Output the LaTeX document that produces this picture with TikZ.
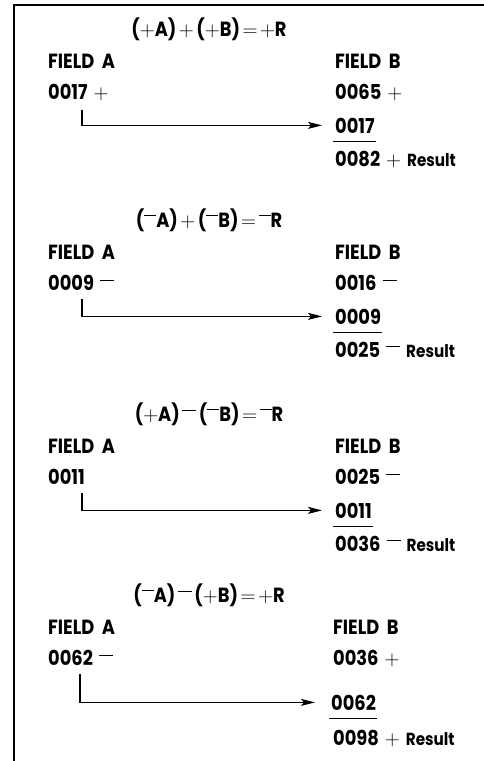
\documentclass[tikz,border=0pt]{standalone}
\usepackage{fontspec}
\setmainfont{Poppins}[FakeStretch=0.87]
\usetikzlibrary{arrows.meta}
\newcommand\pl{{\fontsize{21}{22}\selectfont$+$}}
\newcommand\tpl{{\fontsize{20}{22}\selectfont$+$}}
\newcommand\mnu{\raisebox{11.5pt}{\rule{12pt}{1pt}}}
\newcommand\mnb{\raisebox{10pt}{\rule{14pt}{1pt}}}
\newcommand\eqs{{\fontsize{20}{22}\selectfont$=$}}
\newcommand\rs{{\fontsize{17.5}{18}\selectfont Result}}
\newcommand\gp{\hspace{6pt}}
\newcommand\tg{\hspace{2.5pt}}
\tikzset{
  lab/.style={anchor=base west, inner sep=0pt, font=\fontsize{20.5}{22}\selectfont\bfseries},
  ttl/.style={anchor=base, inner sep=0pt, font=\fontsize{20.5}{22}\selectfont\bfseries},
  conn/.style={line width=1.2pt, -{Stealth[length=14pt,width=7pt,inset=3pt]}},
  uline/.style={line width=1.4pt},
  frame/.style={line width=1.3pt}
}
\begin{document}
\begin{tikzpicture}[x=1pt,y=-1pt]
\useasboundingbox (0,0) rectangle (484,761);
\draw[frame] (484,5) -- (14,5) -- (14,761);

% Panel 1
\node[ttl] (t1) at (209,36) {(\tpl A)\tg\tpl\tg(\tpl B)\tg\eqs\tg\tpl R};
\node[lab] (fa1) at (48,68.3) {FIELD\ \ A};
\node[lab] (fb1) at (335,68.3) {FIELD\ \ B};
\node[lab] (a1) at (48,99.5) {0017\gp\pl};
\node[lab] (b1) at (335,99.5) {0065\gp\pl};
\node[lab] (c1) at (335,133) {0017};
\node[lab] (r1) at (335,166) {0082\gp\pl\gp\rs};
\draw[conn] ([xshift=34pt,yshift=-8.5pt]a1.south west) |- ([xshift=-13pt]c1.west);
\draw[uline] ([xshift=-2pt,yshift=-8.5pt]c1.south west) -- ([xshift=1pt,yshift=-8.5pt]c1.south east);

% Panel 2
\node[ttl] (t2) at (209,227) {(\mnu A)\tg\tpl\tg(\mnu B)\tg\eqs\tg\mnu R};
\node[lab] (fa2) at (48,259.3) {FIELD\ \ A};
\node[lab] (fb2) at (335,259.3) {FIELD\ \ B};
\node[lab] (a2) at (48,290.5) {0009\gp\mnb};
\node[lab] (b2) at (335,290.5) {0016\gp\mnb};
\node[lab] (c2) at (335,324) {0009};
\node[lab] (r2) at (335,357) {0025\gp\mnb\gp\rs};
\draw[conn] ([xshift=34pt,yshift=-8.5pt]a2.south west) |- ([xshift=-13pt]c2.west);
\draw[uline] ([xshift=-2pt,yshift=-8.5pt]c2.south west) -- ([xshift=1pt,yshift=-8.5pt]c2.south east);

% Panel 3
\node[ttl] (t3) at (209,421) {(\tpl A)\tg\mnb\tg(\mnu B)\tg\eqs\tg\mnu R};
\node[lab] (fa3) at (48,453.3) {FIELD\ \ A};
\node[lab] (fb3) at (335,453.3) {FIELD\ \ B};
\node[lab] (a3) at (48,484.5) {0011};
\node[lab] (b3) at (335,484.5) {0025\gp\mnb};
\node[lab] (c3) at (335,518) {0011};
\node[lab] (r3) at (335,551) {0036\gp\mnb\gp\rs};
\draw[conn] ([xshift=34pt,yshift=-8.5pt]a3.south west) |- ([xshift=-13pt]c3.west);
\draw[uline] ([xshift=-2pt,yshift=-8.5pt]c3.south west) -- ([xshift=1pt,yshift=-8.5pt]c3.south east);

% Panel 4
\node[ttl] (t4) at (209,602) {(\mnu A)\tg\mnb\tg(\tpl B)\tg\eqs\tg\tpl R};
\node[lab] (fa4) at (48,634.3) {FIELD\ \ A};
\node[lab] (fb4) at (333,634.3) {FIELD\ \ B};
\node[lab] (a4) at (48,665.5) {0062\gp\mnb};
\node[lab] (b4) at (333,665.5) {0036\gp\pl};
\node[lab] (c4) at (331,710) {0062};
\node[lab] (r4) at (333,745) {0098\gp\pl\gp\rs};
\draw[conn] ([xshift=32pt,yshift=-8.5pt]a4.south west) |- ([xshift=-16pt]c4.west);
\draw[uline] ([xshift=-2pt,yshift=-8.5pt]c4.south west) -- ([xshift=1pt,yshift=-8.5pt]c4.south east);
\end{tikzpicture}
\end{document}
